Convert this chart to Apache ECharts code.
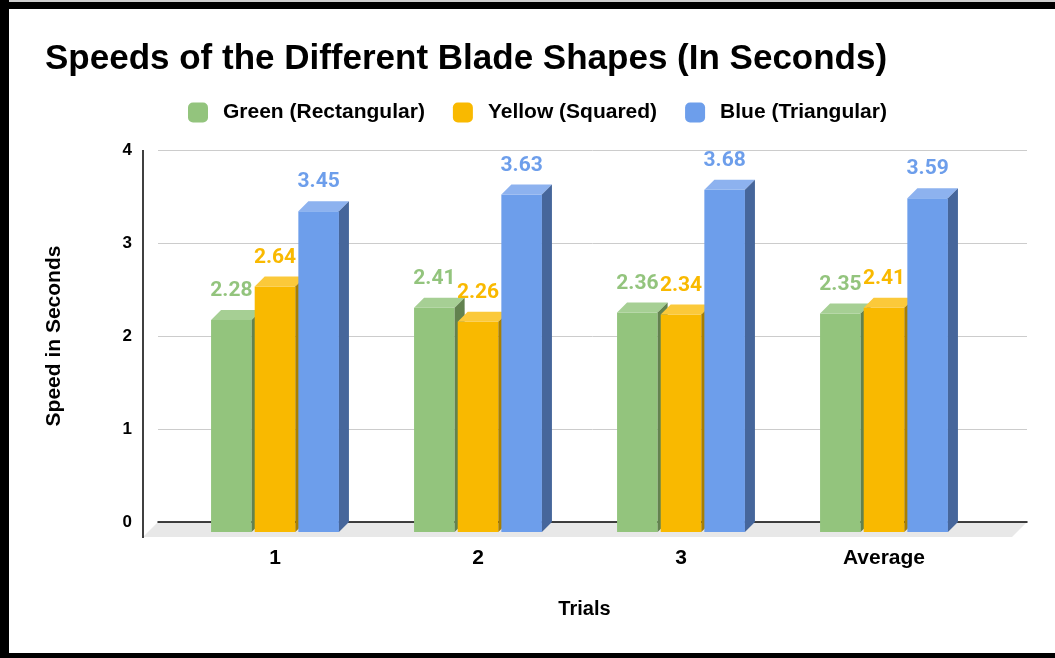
<!DOCTYPE html>
<html>
<head>
<meta charset="utf-8">
<script src="https://cdn.jsdelivr.net/npm/echarts@6/dist/echarts.min.js"></script>
<style>
  html, body { margin: 0; padding: 0; background: #fff; }
  #chart { width: 1055px; height: 658px; }
</style>
</head>
<body>
<div id="chart"></div>
<script>
const categories = ['1', '2', '3', 'Average']
const green = [2.28, 2.41, 2.36, 2.35]
const yellow = [2.64, 2.26, 2.34, 2.41]
const blue = [3.45, 3.63, 3.68, 3.59]
const yTicks = [0, 1, 2, 3, 4]

const font = '"Liberation Sans", Arial, sans-serif'
const depth = 10

const palette = [
  { name: 'Green (Rectangular)', front: '#93c47d', top: '#a6cf94', side: '#62824f', data: green },
  { name: 'Yellow (Squared)', front: '#f9b900', top: '#fbc93a', side: '#a97f00', data: yellow },
  { name: 'Blue (Triangular)', front: '#6d9eeb', top: '#8db2ef', side: '#46669b', data: blue },
]

function barRenderer(idx, c) {
  return (params, api) => {
    const cat = api.value(0)
    const v = api.value(1)
    const base = api.coord([cat, 0])
    const top = api.coord([cat, v])
    const band = api.size([1, 0])[0]
    const w = band * 0.2
    const x = base[0] + (idx - 1) * band * 0.215 - w / 2
    const y = top[1]
    const yb = base[1]
    return {
      type: 'group',
      children: [
        { type: 'rect', shape: { x, y, width: w, height: yb - y }, style: { fill: c.front } },
        { type: 'polygon', shape: { points: [[x, y], [x + depth, y - depth], [x + w + depth, y - depth], [x + w, y]] }, style: { fill: c.top } },
        { type: 'polygon', shape: { points: [[x + w, y], [x + w + depth, y - depth], [x + w + depth, yb - depth], [x + w, yb]] }, style: { fill: c.side } },
        {
          type: 'text', z2: 100,
          style: {
            text: v.toFixed(2), x: x + w / 2, y: y - 29,
            align: 'center', verticalAlign: 'middle',
            fill: c.front, font: 'bold 21px Roboto, sans-serif',
          },
        },
      ],
    }
  }
}

// floor of the 3D plot + the left axis line, drawn from the back-wall grid
function floorRenderer(params) {
  const cs = params.coordSys
  const x0 = cs.x, x1 = cs.x + cs.width, yb = cs.y + cs.height
  const f = 15
  return {
    type: 'group',
    children: [
      { type: 'polygon', shape: { points: [[x0, yb], [x1, yb], [x1 - f, yb + f], [x0 - f, yb + f]] }, style: { fill: '#e8e8e8' } },
      { type: 'line', shape: { x1: x0 - f, y1: cs.y, x2: x0 - f, y2: yb + f + 1 }, style: { stroke: '#000', lineWidth: 1.5 } },
    ],
  }
}

const chart = echarts.init(document.getElementById('chart'))
chart.setOption({
  animation: false,
  title: {
    text: 'Speeds of the Different Blade Shapes (In Seconds)',
    left: 40, top: 37,
    textStyle: { fontFamily: font, fontSize: 35, fontWeight: 'bold', color: '#000' },
  },
  legend: {
    left: 183, top: 97,
    itemWidth: 20, itemHeight: 20, itemGap: 28, icon: 'roundRect',
    data: palette.map(p => p.name),
    textStyle: { fontFamily: font, fontSize: 21, fontWeight: 'bold', color: '#000', padding: [0, 0, 0, 10] },
  },
  grid: [
    { left: 158, right: 28, top: 150, bottom: 136 },
    { left: 173.5, right: 69.5, top: 160, bottom: 126 },
  ],
  xAxis: [
    {
      gridIndex: 0, type: 'value', min: 0, max: 1, z: 1,
      axisLine: { show: true, lineStyle: { color: '#000', width: 1.5 } },
      axisTick: { show: false }, axisLabel: { show: false }, splitLine: { show: false },
    },
    {
      gridIndex: 1, type: 'category', data: categories,
      axisLine: { show: false }, axisTick: { show: false },
      axisLabel: { margin: 16, fontFamily: font, fontSize: 21, fontWeight: 'bold', color: '#000' },
      name: 'Trials', nameLocation: 'middle', nameGap: 67,
      nameTextStyle: { fontFamily: font, fontSize: 20, fontWeight: 'bold', color: '#000', padding: [0, 0, 0, 10] },
    },
  ],
  yAxis: [
    {
      gridIndex: 0, type: 'value', min: yTicks[0], max: yTicks[yTicks.length - 1], interval: 1,
      axisLine: { show: false }, axisTick: { show: false },
      axisLabel: { margin: 26, fontFamily: font, fontSize: 17, fontWeight: 'bold', color: '#000' },
      splitLine: { lineStyle: { color: '#cccccc', width: 1 } },
      name: 'Speed in Seconds', nameLocation: 'middle', nameGap: 93, nameRotate: 90,
      nameTextStyle: { fontFamily: font, fontSize: 21, fontWeight: 'bold', color: '#000' },
    },
    {
      gridIndex: 1, type: 'value', min: yTicks[0], max: yTicks[yTicks.length - 1],
      show: false, splitLine: { show: false },
    },
  ],
  graphic: [
    { type: 'rect', shape: { x: 0, y: 0, width: 1055, height: 2 }, style: { fill: '#cfcfcf' } },
    { type: 'rect', shape: { x: 0, y: 2, width: 1055, height: 7 }, style: { fill: '#000' } },
    { type: 'rect', shape: { x: 0, y: 0, width: 9, height: 658 }, style: { fill: '#000' } },
    { type: 'rect', shape: { x: 0, y: 653, width: 1055, height: 5 }, style: { fill: '#000' } },
  ],
  series: [
    {
      type: 'custom', name: 'floor', xAxisIndex: 0, yAxisIndex: 0, z: 0,
      data: [[0, 0]], renderItem: floorRenderer, silent: true,
    },
    ...palette.map((p, i) => ({
      type: 'custom', name: p.name, xAxisIndex: 1, yAxisIndex: 1,
      itemStyle: { color: p.front },
      encode: { x: 0, y: 1 },
      data: p.data.map((v, j) => [j, v]),
      renderItem: barRenderer(i, p),
    })),
  ],
})
</script>
</body>
</html>
